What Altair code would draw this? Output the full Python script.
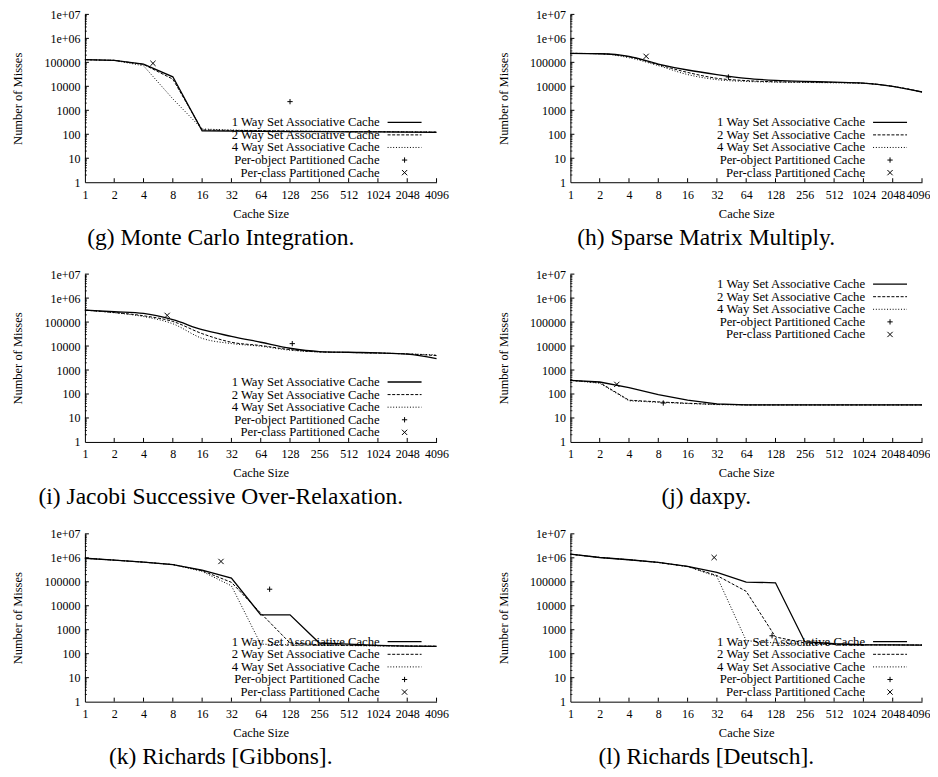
import altair as alt
import pandas as pd

# ---------------- data ----------------
CACHE_SIZES = [1, 2, 4, 8, 16, 32, 64, 128, 256, 512, 1024, 2048, 4096]
Y_TICKS = [1, 10, 100, 1000, 10000, 100000, 1000000, 10000000]
SERIES_LABELS = [
    "1 Way Set Associative Cache",
    "2 Way Set Associative Cache",
    "4 Way Set Associative Cache",
    "Per-object Partitioned Cache",
    "Per-class Partitioned Cache",
]

# (g) Monte Carlo Integration
G_CAPTION = "(g) Monte Carlo Integration."
G_1WAY = [129000, 121000, 85000, 25000, 140, 136, 133, 130, 128, 126, 125, 123, 121]
G_2WAY = [129000, 121000, 82000, 20000, 152, 145, 140, 136, 132, 129, 127, 125, 123]
G_4WAY = [129000, 121000, 72000, 3000, 166, 150, 142, 137, 133, 130, 128, 126, 124]
G_OBJ_X, G_OBJ_Y = [128], [2300]
G_CLS_X, G_CLS_Y = [5], [91000]

# (h) Sparse Matrix Multiply
H_CAPTION = "(h) Sparse Matrix Multiply."
H_1WAY = [237000, 229000, 178000, 85000, 48000, 31000, 21600, 17800, 16000, 15000, 13700, 10000, 5800]
H_2WAY = [237000, 229000, 170000, 80000, 38000, 21600, 17300, 15500, 15000, 14500, 13500, 10000, 5800]
H_4WAY = [237000, 229000, 156000, 73000, 31000, 19000, 16000, 15000, 14500, 14000, 13300, 10000, 5800]
H_OBJ_X, H_OBJ_Y = [42], [24500]
H_CLS_X, H_CLS_Y = [6], [178000]

# (i) Jacobi Successive Over-Relaxation
I_CAPTION = "(i) Jacobi Successive Over-Relaxation."
I_1WAY = [316000, 270000, 229000, 125000, 48000, 25500, 14400, 8100, 5900, 5500, 5200, 4600, 3000]
I_2WAY = [316000, 250000, 183000, 106000, 33000, 14400, 10500, 7100, 5700, 5400, 5100, 4700, 4000]
I_4WAY = [316000, 245000, 170000, 85000, 21000, 12700, 9800, 6700, 5700, 5400, 5100, 4700, 4300]
I_OBJ_X, I_OBJ_Y = [135], [12600]
I_CLS_X, I_CLS_Y = [7], [190000]

# (j) daxpy
J_CAPTION = "(j) daxpy."
J_1WAY = [372, 316, 185, 95, 55, 39, 35, 35, 35, 35, 35, 35, 35]
J_2WAY = [372, 300, 55, 47, 41, 37, 35, 35, 35, 35, 35, 35, 35]
J_4WAY = [372, 280, 52, 45, 40, 36, 35, 35, 35, 35, 35, 35, 35]
J_OBJ_X, J_OBJ_Y = [9], [42]
J_CLS_X, J_CLS_Y = [3], [252]

# (k) Richards [Gibbons]
K_CAPTION = "(k) Richards [Gibbons]."
K_1WAY = [960000, 800000, 660000, 525000, 308000, 142000, 4200, 4200, 280, 250, 223, 208, 203]
K_2WAY = [960000, 800000, 660000, 525000, 290000, 95000, 4900, 280, 237, 225, 215, 210, 205]
K_4WAY = [960000, 800000, 660000, 525000, 270000, 68000, 250, 235, 225, 218, 212, 208, 205]
K_OBJ_X, K_OBJ_Y = [79], [49000]
K_CLS_X, K_CLS_Y = [25], [705000]

# (l) Richards [Deutsch]
L_CAPTION = "(l) Richards [Deutsch]."
L_1WAY = [1420000, 1030000, 830000, 640000, 436000, 245000, 97000, 91000, 316, 260, 237, 232, 230]
L_2WAY = [1420000, 1030000, 830000, 640000, 436000, 182000, 40000, 500, 280, 245, 235, 232, 230]
L_4WAY = [1420000, 1030000, 830000, 640000, 430000, 165000, 350, 280, 250, 240, 235, 232, 230]
L_OBJ_X, L_OBJ_Y = [118], [560]
L_CLS_X, L_CLS_Y = [30], [1030000]

# ---------------- styling ----------------
FONT = "Liberation Serif"
W, H = 352, 168
PLUS = "M-1,0L1,0M0,-1L0,1"
CROSS = "M-1,-1L1,1M-1,1L1,-1"
DASHES = [None, [3, 1.6], [1, 1.8]]
MINOR_TICKS = [m * 10 ** k for k in range(7) for m in range(2, 10)]

LABEL_EXPR = ("datum.value >= 1000000 ? '1e+0' + format(log(datum.value)/LN10, '.0f') "
              ": format(datum.value, 'd')")


def panel(caption, lines, obj, cls, legend_top, interp, right_col):
    xs = alt.Scale(type="log", base=2, domain=[1, 4096], nice=False)
    ys = alt.Scale(type="log", domain=[1, 10000000], nice=False)
    xkw = {}
    if right_col:
        # nudge the last label so it stays inside the page width
        xkw = dict(labelOffset={"expr": "datum.value == 4096 ? -4 : 0"})
    xaxis = alt.Axis(values=CACHE_SIZES, format="d", title="Cache Size",
                     labelFlush=False, labelOverlap=False, labelPadding=7,
                     titleX=W / 2, titleY=31, titleBaseline="middle", titleAlign="center", **xkw)
    yaxis = alt.Axis(values=Y_TICKS, labelExpr=LABEL_EXPR, title="Number of Misses",
                     labelOverlap=False, labelPadding=5, labelFlush=False,
                     titleX=-67, titleY=H / 2, titleBaseline="middle", titleAlign="center",
                     titleAngle=-90)
    X = lambda f: alt.X(f, scale=xs, axis=xaxis)
    Y = lambda f: alt.Y(f, scale=ys, axis=yaxis)

    layers = []
    # legend (key)
    base_y = 10 if legend_top else 108
    for i, lab in enumerate(SERIES_LABELS):
        ry = base_y + i * 12.6
        ldf = pd.DataFrame({"label": [lab]})
        layers.append(alt.Chart(ldf).mark_text(align="right", baseline="middle", font=FONT,
                                               fontSize=12.7, color="black")
                      .encode(x=alt.value(295), y=alt.value(ry), text="label:N"))
        if i < 3:
            kw = {"strokeDash": DASHES[i]} if DASHES[i] else {}
            layers.append(alt.Chart(ldf).mark_rule(color="black",
                                                   strokeWidth=1.3 if i == 0 else 1, **kw)
                          .encode(x=alt.value(303), x2=alt.value(337), y=alt.value(ry)))
        else:
            shp = PLUS if i == 3 else CROSS
            layers.append(alt.Chart(ldf).mark_point(shape=shp, filled=False, size=28,
                                                    strokeWidth=1, color="black", opacity=1)
                          .encode(x=alt.value(320), y=alt.value(ry)))

    # inward ticks
    layers.append(alt.Chart(pd.DataFrame({"size": CACHE_SIZES[1:]}))
                  .mark_rule(color="black", strokeWidth=1)
                  .encode(x=X("size:Q"), y=alt.value(H), y2=alt.value(H - 4)))
    layers.append(alt.Chart(pd.DataFrame({"misses": Y_TICKS[1:]}))
                  .mark_rule(color="black", strokeWidth=1)
                  .encode(y=Y("misses:Q"), x=alt.value(0), x2=alt.value(4)))
    layers.append(alt.Chart(pd.DataFrame({"misses": MINOR_TICKS}))
                  .mark_rule(color="black", strokeWidth=0.8)
                  .encode(y=Y("misses:Q"), x=alt.value(0), x2=alt.value(2)))

    # series lines
    for i, vals in enumerate(lines):
        df = pd.DataFrame({"size": CACHE_SIZES, "misses": vals})
        kw = {"strokeDash": DASHES[i]} if DASHES[i] else {}
        layers.append(alt.Chart(df).mark_line(color="black", strokeWidth=1.3 if i == 0 else 1,
                                              interpolate=interp, **kw)
                      .encode(x=X("size:Q"), y=Y("misses:Q")))
    # points
    for (px, py), shp in ((obj, PLUS), (cls, CROSS)):
        df = pd.DataFrame({"size": px, "misses": py})
        layers.append(alt.Chart(df).mark_point(shape=shp, filled=False, size=28, strokeWidth=1,
                                               color="black", opacity=1)
                      .encode(x=X("size:Q"), y=Y("misses:Q")))

    return alt.layer(*layers).properties(
        width=W, height=H,
        title=alt.TitleParams(caption, orient="bottom", anchor="middle", frame="group",
                              dx=-40, offset=6, fontSize=23.5, font=FONT,
                              fontWeight="normal", color="black"))


g = panel(G_CAPTION, [G_1WAY, G_2WAY, G_4WAY], (G_OBJ_X, G_OBJ_Y), (G_CLS_X, G_CLS_Y), False, "linear", False)
h = panel(H_CAPTION, [H_1WAY, H_2WAY, H_4WAY], (H_OBJ_X, H_OBJ_Y), (H_CLS_X, H_CLS_Y), False, "monotone", True)
i_ = panel(I_CAPTION, [I_1WAY, I_2WAY, I_4WAY], (I_OBJ_X, I_OBJ_Y), (I_CLS_X, I_CLS_Y), False, "monotone", False)
j = panel(J_CAPTION, [J_1WAY, J_2WAY, J_4WAY], (J_OBJ_X, J_OBJ_Y), (J_CLS_X, J_CLS_Y), True, "linear", True)
k = panel(K_CAPTION, [K_1WAY, K_2WAY, K_4WAY], (K_OBJ_X, K_OBJ_Y), (K_CLS_X, K_CLS_Y), False, "linear", False)
l = panel(L_CAPTION, [L_1WAY, L_2WAY, L_4WAY], (L_OBJ_X, L_OBJ_Y), (L_CLS_X, L_CLS_Y), False, "linear", True)

chart = (alt.concat(g, h, i_, j, k, l, columns=2,
                    spacing=alt.RowColnumber(row=92, column=134), bounds="flush")
         .properties(padding={"left": 4, "top": 0, "right": 0, "bottom": 0}, background="white")
         .configure_view(stroke=None)
         .configure_axis(grid=False, ticks=False, domainColor="black", domainWidth=1,
                         labelColor="black", titleColor="black", labelFont=FONT, titleFont=FONT,
                         labelFontSize=12, titleFontSize=12.5, titleFontWeight="normal"))

chart.save("out.html", embed_options={"renderer": "svg", "actions": False})
